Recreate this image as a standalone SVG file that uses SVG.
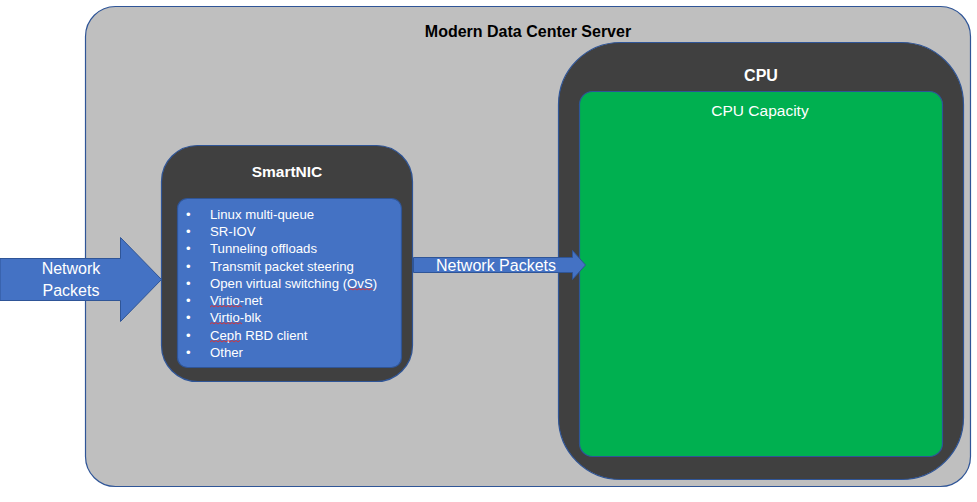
<svg xmlns="http://www.w3.org/2000/svg" width="977" height="502" viewBox="0 0 977 502">
<style>
.t{font-family:"Liberation Sans",Arial,sans-serif;fill:#fff}
.b{font-weight:bold}
.box{stroke:#2F5597;stroke-width:1.2}
.arrow{fill:#4472C4;stroke:#2F5597;stroke-width:1}
.sq{fill:none;stroke:#E03030;stroke-width:0.9}
</style>
<rect width="977" height="502" fill="#fff"/>
<g id="server">
<rect class="box" x="85.5" y="6.5" width="885" height="480" rx="30" fill="#BFBFBF"/>
<text class="t b" x="528" y="37" font-size="16" text-anchor="middle" style="fill:#000">Modern Data Center Server</text>
</g>
<g id="cpu">
<rect class="box" x="558.5" y="42.5" width="405" height="437" rx="62" fill="#404040"/>
<text class="t b" x="761" y="81" font-size="16" text-anchor="middle">CPU</text>
<rect class="box" x="579.5" y="91.5" width="363" height="365" rx="13" fill="#00B050"/>
<text class="t" x="760" y="116" font-size="15.5" text-anchor="middle">CPU Capacity</text>
</g>
<g id="smartnic">
<rect class="box" x="161.5" y="145.5" width="251" height="236" rx="36" fill="#404040"/>
<text class="t b" x="287" y="177" font-size="15.5" text-anchor="middle">SmartNIC</text>
<rect class="box" x="177.5" y="198.5" width="224" height="169" rx="10" fill="#4472C4"/>
<g class="t" font-size="13.2">
<text x="186" y="219">•</text><text x="210" y="219">Linux multi-queue</text>
<text x="186" y="236">•</text><text x="210" y="236">SR-IOV</text>
<text x="186" y="253">•</text><text x="210" y="253">Tunneling offloads</text>
<text x="186" y="271">•</text><text x="210" y="271">Transmit packet steering</text>
<text x="186" y="288">•</text><text x="210" y="288">Open virtual switching (OvS)</text>
<text x="186" y="305">•</text><text x="210" y="305">Virtio-net</text>
<text x="186" y="322">•</text><text x="210" y="322">Virtio-blk</text>
<text x="186" y="340">•</text><text x="210" y="340">Ceph RBD client</text>
<text x="186" y="357">•</text><text x="210" y="357">Other</text>
</g>
<path class="sq" d="M210 307 l2 -1.5 l2 1.5 l2 -1.5 l2 1.5 l2 -1.5 l2 1.5 l2 -1.5 l2 1.5 l2 -1.5 l2 1.5 l2 -1.5 l2 1.5 l2 -1.5 l2 1.5 l2 -1.5 l2 1.5"/>
<path class="sq" d="M210 324 l2 -1.5 l2 1.5 l2 -1.5 l2 1.5 l2 -1.5 l2 1.5 l2 -1.5 l2 1.5 l2 -1.5 l2 1.5 l2 -1.5 l2 1.5 l2 -1.5 l2 1.5 l2 -1.5 l2 1.5"/>
<path class="sq" d="M210 342 l2 -1.5 l2 1.5 l2 -1.5 l2 1.5 l2 -1.5 l2 1.5 l2 -1.5 l2 1.5 l2 -1.5 l2 1.5 l2 -1.5 l2 1.5 l2 -1.5 l2 1.5 l2 -1.5"/>
<path class="sq" d="M349 290 l2 -1.5 l2 1.5 l2 -1.5 l2 1.5 l2 -1.5 l2 1.5 l2 -1.5 l2 1.5 l2 -1.5 l2 1.5 l2 -1.5 l2 1.5"/>
</g>
<g id="connectors">
<path class="arrow" d="M0 258.5 H120.5 V237.5 L161.5 279.5 L120.5 321.5 V300.5 H0 Z"/>
<text class="t" x="71" y="274" font-size="16" text-anchor="middle">Network</text>
<text class="t" x="71" y="296" font-size="16" text-anchor="middle">Packets</text>
<path class="arrow" d="M413.5 257.5 H572.5 V250.5 L585.5 265 L572.5 279.5 V272.5 H413.5 Z"/>
<text class="t" x="496" y="271" font-size="16" text-anchor="middle">Network Packets</text>
</g>
</svg>
